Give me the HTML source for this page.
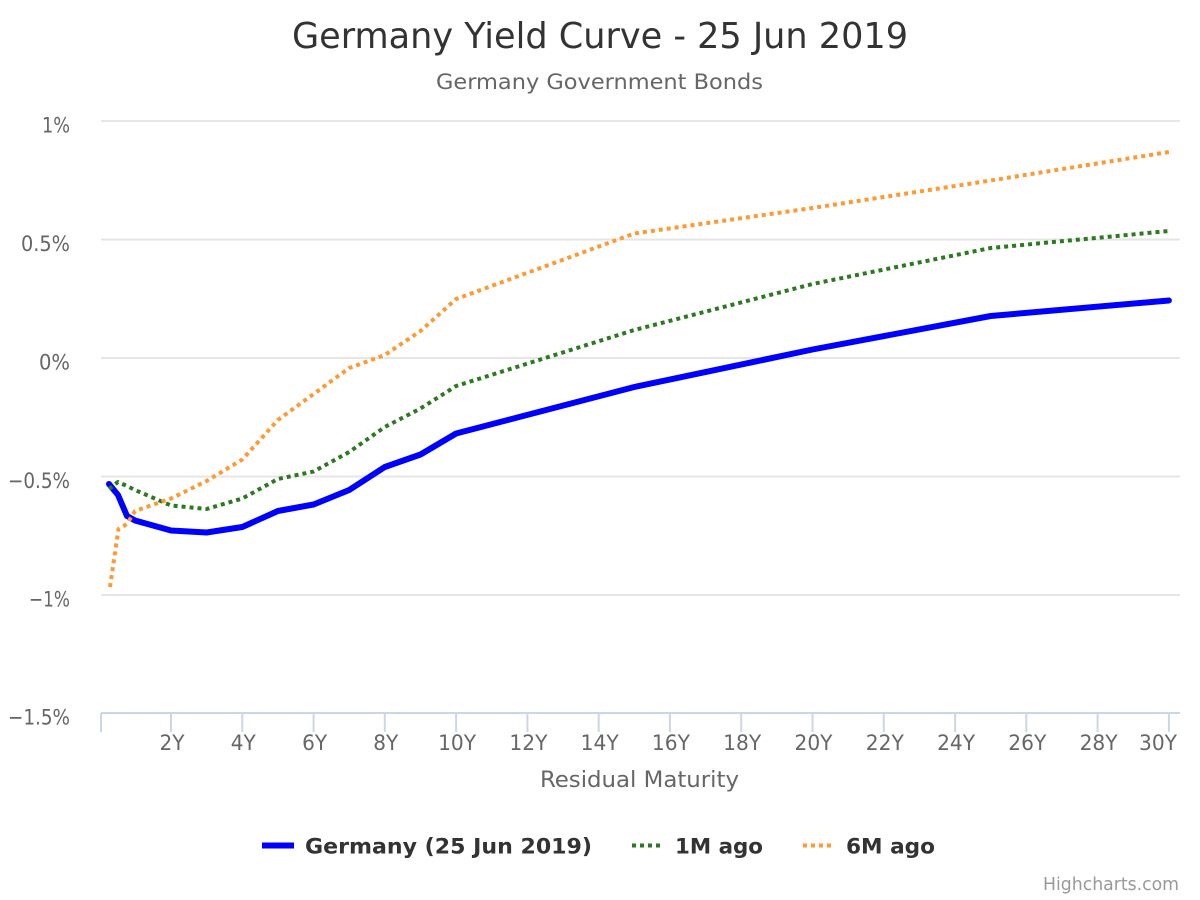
<!DOCTYPE html>
<html>
<head>
<meta charset="utf-8">
<style>
html,body{margin:0;padding:0;background:#fff;}
svg{display:block;}
text{font-family:"DejaVu Sans Condensed","DejaVu Sans","Liberation Sans",sans-serif;}
</style>
</head>
<body>
<svg width="1200" height="900" viewBox="0 0 1200 900" xmlns="http://www.w3.org/2000/svg">
<rect x="0" y="0" width="1200" height="900" fill="#ffffff"/>

<!-- Title -->
<text x="292" y="48" font-size="36" fill="#333333" textLength="616" lengthAdjust="spacingAndGlyphs">Germany Yield Curve - 25 Jun 2019</text>
<text x="436" y="89" font-size="21.5" fill="#666666" textLength="327" lengthAdjust="spacingAndGlyphs">Germany Government Bonds</text>

<!-- Gridlines -->
<g stroke="#e6e6e6" stroke-width="2" fill="none">
<line x1="101" y1="121" x2="1180" y2="121"/>
<line x1="101" y1="239.5" x2="1180" y2="239.5"/>
<line x1="101" y1="358" x2="1180" y2="358"/>
<line x1="101" y1="476.5" x2="1180" y2="476.5"/>
<line x1="101" y1="595" x2="1180" y2="595"/>
</g>

<!-- Y axis labels -->
<g font-size="21.5" fill="#666666" text-anchor="end">
<text x="70" y="132.5" textLength="28" lengthAdjust="spacingAndGlyphs">1%</text>
<text x="70" y="251" textLength="49" lengthAdjust="spacingAndGlyphs">0.5%</text>
<text x="70" y="369.5" textLength="31" lengthAdjust="spacingAndGlyphs">0%</text>
<text x="70" y="488" textLength="62" lengthAdjust="spacingAndGlyphs">−0.5%</text>
<text x="70" y="606.5" textLength="41" lengthAdjust="spacingAndGlyphs">−1%</text>
<text x="70" y="724.5" textLength="62" lengthAdjust="spacingAndGlyphs">−1.5%</text>
</g>

<!-- X axis line and ticks -->
<line x1="101" y1="713" x2="1180" y2="713" stroke="#ccd6eb" stroke-width="2"/>
<g stroke="#ccd6eb" stroke-width="2">
<line x1="101" y1="713" x2="101" y2="732"/>
<line x1="171" y1="713" x2="171" y2="732"/>
<line x1="242.3" y1="713" x2="242.3" y2="732"/>
<line x1="313.6" y1="713" x2="313.6" y2="732"/>
<line x1="384.8" y1="713" x2="384.8" y2="732"/>
<line x1="456.1" y1="713" x2="456.1" y2="732"/>
<line x1="527.4" y1="713" x2="527.4" y2="732"/>
<line x1="598.7" y1="713" x2="598.7" y2="732"/>
<line x1="669.9" y1="713" x2="669.9" y2="732"/>
<line x1="741.2" y1="713" x2="741.2" y2="732"/>
<line x1="812.5" y1="713" x2="812.5" y2="732"/>
<line x1="883.8" y1="713" x2="883.8" y2="732"/>
<line x1="955.1" y1="713" x2="955.1" y2="732"/>
<line x1="1026.3" y1="713" x2="1026.3" y2="732"/>
<line x1="1097.6" y1="713" x2="1097.6" y2="732"/>
<line x1="1168.9" y1="713" x2="1168.9" y2="732"/>
</g>

<!-- X axis labels -->
<g font-size="21.5" fill="#666666" text-anchor="middle">
<text x="172" y="750" textLength="25" lengthAdjust="spacingAndGlyphs">2Y</text>
<text x="243.3" y="750" textLength="25" lengthAdjust="spacingAndGlyphs">4Y</text>
<text x="314.6" y="750" textLength="25" lengthAdjust="spacingAndGlyphs">6Y</text>
<text x="385.8" y="750" textLength="25" lengthAdjust="spacingAndGlyphs">8Y</text>
<text x="457.1" y="750" textLength="38" lengthAdjust="spacingAndGlyphs">10Y</text>
<text x="528.4" y="750" textLength="38" lengthAdjust="spacingAndGlyphs">12Y</text>
<text x="599.7" y="750" textLength="38" lengthAdjust="spacingAndGlyphs">14Y</text>
<text x="670.9" y="750" textLength="38" lengthAdjust="spacingAndGlyphs">16Y</text>
<text x="742.2" y="750" textLength="38" lengthAdjust="spacingAndGlyphs">18Y</text>
<text x="813.5" y="750" textLength="38" lengthAdjust="spacingAndGlyphs">20Y</text>
<text x="884.8" y="750" textLength="38" lengthAdjust="spacingAndGlyphs">22Y</text>
<text x="956.1" y="750" textLength="38" lengthAdjust="spacingAndGlyphs">24Y</text>
<text x="1027.3" y="750" textLength="38" lengthAdjust="spacingAndGlyphs">26Y</text>
<text x="1098.6" y="750" textLength="38" lengthAdjust="spacingAndGlyphs">28Y</text>
<text x="1158" y="750" textLength="38" lengthAdjust="spacingAndGlyphs">30Y</text>
</g>

<!-- Axis title -->
<text x="540" y="787" font-size="22" fill="#666666" textLength="199" lengthAdjust="spacingAndGlyphs">Residual Maturity</text>

<!-- Series -->
<polyline fill="none" stroke="#0000ff" stroke-width="6" stroke-linejoin="round" stroke-linecap="round"
points="109,484 118,495 127,516 135,520.5 171,530.5 206.6,532.5 242.3,527 277.9,511 313.6,504.5 349.2,490 384.8,467 420.5,454.5 456.1,433.5 634.3,387 812.5,349.5 990.7,316 1168.9,300.5"/>
<polyline fill="none" stroke="#2b7a1f" stroke-width="4" stroke-dasharray="4,4" stroke-linejoin="round"
points="109,489 118,482 127,486 135,490 171,505.5 206.6,509 242.3,498.5 277.9,479 313.6,471.5 349.2,452 384.8,427 420.5,408.5 456.1,386 634.3,330 812.5,284 990.7,248 1168.9,231"/>
<polyline fill="none" stroke="#ff9933" stroke-width="4" stroke-dasharray="4,4" stroke-linejoin="round"
points="110,587 118.5,529 127,524 135,511 171,498.5 206.6,481 242.3,459.5 277.9,420 313.6,394 349.2,368 384.8,355 420.5,331 456.1,299 634.3,233.5 812.5,208 990.7,180.5 1168.9,152"/>

<!-- Legend -->
<line x1="262" y1="845.5" x2="294" y2="845.5" stroke="#0000ff" stroke-width="6"/>
<text x="305" y="853.5" font-size="21" font-weight="bold" fill="#333333" textLength="287" lengthAdjust="spacingAndGlyphs">Germany (25 Jun 2019)</text>
<line x1="632" y1="845.5" x2="664" y2="845.5" stroke="#2b7a1f" stroke-width="4" stroke-dasharray="4,4"/>
<text x="675" y="853.5" font-size="21" font-weight="bold" fill="#333333" textLength="88" lengthAdjust="spacingAndGlyphs">1M ago</text>
<line x1="803" y1="845.5" x2="835" y2="845.5" stroke="#ff9933" stroke-width="4" stroke-dasharray="4,4"/>
<text x="846" y="853.5" font-size="21" font-weight="bold" fill="#333333" textLength="89" lengthAdjust="spacingAndGlyphs">6M ago</text>

<!-- Credits -->
<text x="1179" y="890" font-size="18" fill="#999999" text-anchor="end" textLength="136" lengthAdjust="spacingAndGlyphs">Highcharts.com</text>
</svg>
</body>
</html>
